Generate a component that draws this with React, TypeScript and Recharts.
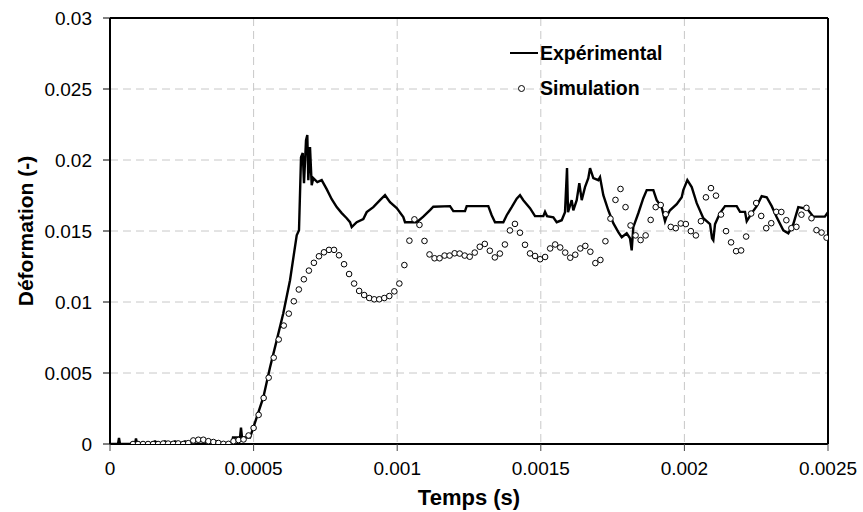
import React from "react"
import {
  ComposedChart,
  Line,
  Scatter,
  XAxis,
  YAxis,
  CartesianGrid,
  ReferenceLine,
  Legend,
} from "recharts"

const FONT = "'Liberation Sans', Arial, sans-serif"

const X_TICKS = [0, 0.0005, 0.001, 0.0015, 0.002, 0.0025]
const Y_TICKS = [0, 0.005, 0.01, 0.015, 0.02, 0.025, 0.03]

// [temps (s), deformation]
const EXPERIMENTAL: [number, number][] = [
  [0, 0], [0.0000279, 0], [0.0000313, 0.00042], [0.0000348, 0],
  [0.0000871, 0], [0.0000905, 0.00039], [0.000094, 0],
  [0.0001393, 0], [0.0001567, 0.00018], [0.0001741, 0], [0.0001915, 0.00018],
  [0.0002089, 0], [0.0002263, 0.00018], [0.0002437, 0], [0.0002612, 0.00018],
  [0.0002786, 0], [0.0003308, 0], [0.0003412, 0.00018], [0.0003552, 0],
  [0.0003691, 0.00018], [0.000383, 0], [0.0004248, 0], [0.0004283, 0.00046],
  [0.0004527, 0.00046], [0.0004561, 0.00116], [0.0004596, 0.00046], [0.0004875, 0.00046],
  [0.0004979, 0.00109], [0.0005108, 0.00187], [0.0005338, 0.00328], [0.0005571, 0.00539],
  [0.0005804, 0.0073], [0.0006034, 0.0092], [0.0006268, 0.01153], [0.0006501, 0.0147],
  [0.0006581, 0.01506], [0.0006651, 0.0202], [0.000671, 0.02049], [0.0006755, 0.01837],
  [0.0006825, 0.0214], [0.000687, 0.02175], [0.0006905, 0.01858], [0.0006964, 0.02091],
  [0.0007023, 0.01823], [0.0007079, 0.01872], [0.0007218, 0.01844], [0.0007371, 0.01858],
  [0.0007545, 0.01795], [0.000772, 0.01724], [0.0007894, 0.01668], [0.0008068, 0.01626],
  [0.0008242, 0.0159], [0.0008357, 0.01562], [0.0008416, 0.01527], [0.000859, 0.01562],
  [0.000882, 0.01584], [0.0008938, 0.01633], [0.0009168, 0.01668], [0.0009401, 0.01717],
  [0.0009576, 0.01752], [0.000975, 0.01703], [0.0009983, 0.01661], [0.0010213, 0.01598],
  [0.0010272, 0.01562], [0.0010679, 0.01562], [0.0010909, 0.01601], [0.0011142, 0.01647],
  [0.0011257, 0.01671], [0.0011839, 0.01675], [0.0011954, 0.0164], [0.0012361, 0.0164],
  [0.001242, 0.01675], [0.0013172, 0.01675], [0.001329, 0.01611], [0.0013406, 0.01562],
  [0.0013695, 0.01562], [0.0013813, 0.01611], [0.0013987, 0.01668], [0.0014161, 0.01728],
  [0.0014276, 0.01752], [0.0014391, 0.01717], [0.0014624, 0.01661], [0.0014799, 0.01605],
  [0.0015088, 0.01605], [0.0015147, 0.01635], [0.0015216, 0.01605], [0.0015436, 0.01597],
  [0.0015554, 0.01562], [0.0015728, 0.01576], [0.0015843, 0.01633], [0.0015913, 0.01943],
  [0.0015948, 0.01633], [0.0016076, 0.01717], [0.0016132, 0.01646], [0.001625, 0.01717],
  [0.0016341, 0.01837], [0.0016425, 0.01717], [0.0016539, 0.01809], [0.0016654, 0.01872],
  [0.0016714, 0.01943], [0.0016829, 0.01872], [0.0017003, 0.01858], [0.0017062, 0.01879],
  [0.0017177, 0.01752], [0.0017351, 0.01646], [0.0017525, 0.01555], [0.0017699, 0.01492],
  [0.0017818, 0.01456], [0.0017991, 0.01484], [0.0018106, 0.01449], [0.0018165, 0.01364],
  [0.0018221, 0.01527], [0.0018395, 0.01625], [0.0018569, 0.01731], [0.0018688, 0.01788],
  [0.0018918, 0.01788], [0.0019036, 0.01717], [0.001921, 0.01668], [0.0019325, 0.01569],
  [0.0019384, 0.01604], [0.0019499, 0.01646], [0.0019732, 0.01689], [0.0019907, 0.01738],
  [0.0019962, 0.01788], [0.0020102, 0.01858], [0.0020255, 0.01809], [0.0020429, 0.01696],
  [0.0020659, 0.0159], [0.0020892, 0.01548], [0.0020962, 0.01449], [0.0021007, 0.01435],
  [0.0021066, 0.01548], [0.002124, 0.01626], [0.0021414, 0.01675], [0.0021821, 0.01675],
  [0.0021937, 0.01635], [0.0022111, 0.01635], [0.002217, 0.01569], [0.0022344, 0.01626],
  [0.0022518, 0.01675], [0.0022692, 0.01745], [0.0022866, 0.01738], [0.002304, 0.01675],
  [0.0023215, 0.01597], [0.0023444, 0.01505], [0.0023618, 0.01484], [0.0023792, 0.01548],
  [0.0023966, 0.01668], [0.002414, 0.01661], [0.0024315, 0.01646], [0.0024489, 0.01601],
  [0.002489, 0.01601], [0.0025, 0.01633],
]

// [temps (s), deformation]
const SIMULATION: [number, number][] = [
  [0.00008, 0], [0.0000975, 0], [0.000115, 0], [0.0001325, 0], [0.00015, 0],
  [0.0001675, 0], [0.000185, 0.00003], [0.0002025, 0.00003], [0.00022, 0.00001],
  [0.0002375, 0.00004], [0.000255, 0], [0.0002725, 0.00006], [0.00029, 0.00025],
  [0.0003075, 0.0003], [0.000325, 0.0003], [0.0003425, 0.0002], [0.00036, 0.00014],
  [0.0003775, 0.00007], [0.000395, 0.00001], [0.0004125, 0.00001], [0.00043, 0.0002],
  [0.0004475, 0.00028], [0.000465, 0.00032], [0.0004825, 0.0006], [0.0005, 0.00113],
  [0.0005175, 0.00205], [0.000535, 0.00324], [0.0005525, 0.00467], [0.00057, 0.00608],
  [0.0005875, 0.00736], [0.000605, 0.00834], [0.0006225, 0.00918], [0.00064, 0.01005],
  [0.0006575, 0.01088], [0.000675, 0.0116], [0.0006925, 0.01221], [0.00071, 0.01276],
  [0.0007275, 0.01322], [0.000745, 0.0135], [0.0007625, 0.01367], [0.00078, 0.01367],
  [0.0007975, 0.01329], [0.000815, 0.01266], [0.0008325, 0.01197], [0.00085, 0.0113],
  [0.0008675, 0.01078], [0.000885, 0.01049], [0.0009025, 0.01028], [0.00092, 0.01019],
  [0.0009375, 0.01019], [0.000955, 0.01028], [0.0009725, 0.01042], [0.00099, 0.01075],
  [0.0010075, 0.0113], [0.001025, 0.0126], [0.0010425, 0.01432], [0.00106, 0.01582],
  [0.0010775, 0.01543], [0.001095, 0.0143], [0.0011125, 0.01335], [0.00113, 0.01308],
  [0.0011475, 0.01308], [0.001165, 0.01327], [0.0011825, 0.01327], [0.0012, 0.01343],
  [0.0012175, 0.01341], [0.001235, 0.01327], [0.0012525, 0.01319], [0.00127, 0.01348],
  [0.0012875, 0.01389], [0.001305, 0.01409], [0.0013225, 0.01361], [0.00134, 0.01314],
  [0.0013575, 0.01341], [0.001375, 0.01405], [0.0013925, 0.01504], [0.00141, 0.0155],
  [0.0014275, 0.01488], [0.001445, 0.01403], [0.0014625, 0.01342], [0.00148, 0.01324],
  [0.0014975, 0.01301], [0.001515, 0.01317], [0.0015325, 0.01377], [0.00155, 0.01405],
  [0.0015675, 0.01384], [0.001585, 0.01348], [0.0016025, 0.01312], [0.00162, 0.01333],
  [0.0016375, 0.01377], [0.001655, 0.01395], [0.0016725, 0.01354], [0.00169, 0.01274],
  [0.0017075, 0.01296], [0.001725, 0.01428], [0.0017425, 0.01587], [0.00176, 0.01719],
  [0.0017775, 0.01796], [0.001795, 0.01668], [0.0018125, 0.01539], [0.00183, 0.01469],
  [0.0018475, 0.01436], [0.001865, 0.01469], [0.0018825, 0.01578], [0.0019, 0.01668],
  [0.0019175, 0.01683], [0.001935, 0.01618], [0.0019525, 0.01529], [0.00197, 0.0152],
  [0.0019875, 0.01553], [0.002005, 0.01549], [0.0020225, 0.01499], [0.00204, 0.01469],
  [0.0020575, 0.01569], [0.002075, 0.01737], [0.0020925, 0.01802], [0.00211, 0.01749],
  [0.0021275, 0.01616], [0.002145, 0.01499], [0.0021625, 0.0142], [0.00218, 0.01358],
  [0.0021975, 0.01363], [0.002215, 0.01461], [0.0022325, 0.01623], [0.00225, 0.01697],
  [0.0022675, 0.01606], [0.002285, 0.0152], [0.0023025, 0.01555], [0.00232, 0.01635],
  [0.0023375, 0.01634], [0.002355, 0.01576], [0.0023725, 0.0152], [0.00239, 0.01529],
  [0.0024075, 0.01615], [0.002425, 0.01663], [0.0024425, 0.0159], [0.00246, 0.01506],
  [0.0024775, 0.01489], [0.002495, 0.01453],
]

const expData = EXPERIMENTAL.map(([t, v]) => ({ t, v }))
const simData = SIMULATION.map(([t, v]) => ({ t, v }))

function OpenCircle(props: any) {
  const { cx, cy } = props
  if (cx == null || cy == null) return <g />
  return <circle cx={cx} cy={cy} r={2.8} fill="#fff" stroke="#000" strokeWidth={1} />
}

function LegendBox() {
  const text = {
    fontFamily: FONT,
    fontWeight: 700,
    fontSize: 19.5,
    lineHeight: "22px",
    color: "#000",
    position: "absolute" as const,
    left: 35,
    whiteSpace: "nowrap" as const,
  }
  return (
    <div style={{ position: "relative", width: 200, height: 70 }}>
      <div style={{ position: "absolute", left: 5, top: 14, width: 28, height: 2, background: "#000" }} />
      <span style={{ ...text, top: 4 }}>Expérimental</span>
      <div style={{ position: "absolute", left: 13, top: 47, width: 5, height: 5, borderRadius: "50%", border: "1px solid #000", background: "#fff" }} />
      <span style={{ ...text, top: 39 }}>Simulation</span>
    </div>
  )
}

export default function App() {
  const tick = { fontFamily: FONT, fontSize: 19, fill: "#000" }
  return (
    <div style={{ position: "absolute", left: 0, top: 0, background: "#fff" }}>
      <ComposedChart width={863} height={512} margin={{ top: 18, right: 35, bottom: 0, left: 0 }}>
        <CartesianGrid stroke="#c8c8c8" strokeDasharray="8 5" />
        <XAxis
          dataKey="t"
          type="number"
          domain={[0, 0.0025]}
          ticks={X_TICKS}
          allowDataOverflow
          height={68}
          tick={tick}
          tickSize={7}
          tickMargin={11}
          tickLine={{ stroke: "#444" }}
          axisLine={{ stroke: "#000", strokeWidth: 2 }}
          label={{
            content: ({ viewBox }: any) => (
              <text
                x={viewBox.x + viewBox.width / 2}
                y={505}
                textAnchor="middle"
                style={{ fontFamily: FONT, fontWeight: 700, fontSize: 22 }}
              >
                Temps (s)
              </text>
            ),
          }}
        />
        <YAxis
          dataKey="v"
          type="number"
          domain={[0, 0.03]}
          ticks={Y_TICKS}
          allowDataOverflow
          width={110}
          tick={tick}
          tickSize={7}
          tickMargin={11}
          tickLine={{ stroke: "#000" }}
          axisLine={{ stroke: "#000", strokeWidth: 2 }}
          label={{
            content: ({ viewBox }: any) => {
              const cy = viewBox.y + viewBox.height / 2
              return (
                <text
                  x={33}
                  y={cy}
                  transform={`rotate(-90, 33, ${cy})`}
                  textAnchor="middle"
                  style={{ fontFamily: FONT, fontWeight: 700, fontSize: 21 }}
                >
                  Déformation (-)
                </text>
              )
            },
          }}
        />
        <ReferenceLine y={0.03} stroke="#000" strokeWidth={2} />
        <ReferenceLine x={0.0025} stroke="#000" strokeWidth={2} />
        <Legend
          layout="vertical"
          align="center"
          verticalAlign="middle"
          content={() => <LegendBox />}
          wrapperStyle={{ left: 505, top: 38, width: 200, height: 70 }}
        />
        <Line
          data={expData}
          dataKey="v"
          type="linear"
          stroke="#000"
          strokeWidth={2.4}
          dot={false}
          activeDot={false}
          isAnimationActive={false}
          name="Expérimental"
        />
        <Scatter
          data={simData}
          dataKey="v"
          shape={<OpenCircle />}
          isAnimationActive={false}
          name="Simulation"
        />
      </ComposedChart>
    </div>
  )
}
